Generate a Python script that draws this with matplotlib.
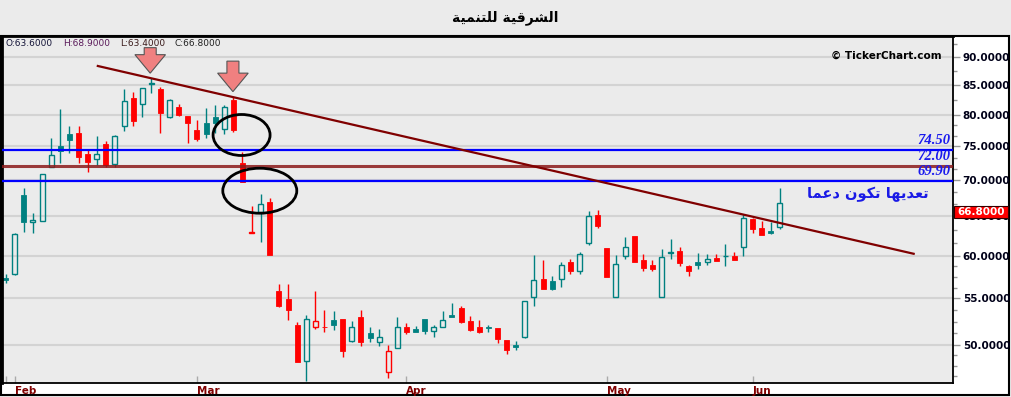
import matplotlib
matplotlib.use('Agg')
import matplotlib.pyplot as plt
from matplotlib.patches import Rectangle, Ellipse, Polygon
from matplotlib.transforms import IdentityTransform, blended_transform_factory, offset_copy
from matplotlib.ticker import FixedLocator, NullFormatter
import numpy as np

# ---------------- data ----------------
title_text = "الشرقية للتنمية"
note_text = "تعديها تكون دعما"
watermark = "© TickerChart.com"

opens = [57.3, 57.8, 67.9, 64.3, 64.4, 71.95, 75.0, 76.9, 77.05, 73.85,
         73.05, 75.4, 72.3, 78.1, 82.75, 81.8, 85.1, 84.3, 79.55, 81.25,
         79.8, 77.55, 78.6, 79.7, 77.75, 82.4, 72.55, 62.9, 65.65, 67.0,
         55.8, 54.9, 52.1, 48.4, 51.9, 51.9, 52.6, 52.7, 50.4, 52.9,
         51.2, 50.3, 47.35, 49.7, 51.9, 51.65, 52.7, 51.4, 51.9, 53.15,
         53.95, 52.5, 51.9, 51.9, 51.75, 50.5, 50.0, 50.85, 55.1, 57.2,
         57.0, 57.2, 59.25, 58.1, 61.55, 65.2, 60.9, 55.1, 60.0, 62.45,
         59.5, 58.85, 55.1, 60.35, 60.6, 58.8, 59.2, 59.25, 59.7, 59.9,
         59.95, 61.05, 64.6, 63.5, 63.1, 63.6]
highs = [57.8, 62.8, 68.85, 65.4, 70.9, 76.35, 80.95, 78.1, 78.2, 74.55,
         76.6, 75.85, 76.7, 84.3, 83.85, 84.5, 86.2, 84.7, 82.6, 81.8,
         79.85, 79.15, 81.1, 81.6, 81.6, 83.0, 74.2, 66.4, 68.05, 67.55,
         56.6, 56.6, 52.35, 53.15, 55.8, 53.7, 53.6, 52.75, 52.5, 53.7,
         51.9, 51.65, 49.95, 52.9, 52.3, 52.0, 52.75, 52.05, 53.6, 54.45,
         54.1, 53.05, 52.6, 52.05, 51.8, 50.55, 50.4, 54.75, 60.1, 59.5,
         57.55, 59.25, 59.6, 60.5, 65.75, 65.87, 60.9, 60.1, 62.3, 62.45,
         60.25, 59.5, 60.85, 62.1, 61.05, 58.85, 60.3, 60.25, 60.25, 61.45,
         60.5, 65.3, 64.85, 64.4, 64.3, 68.9]
lows = [56.8, 57.7, 63.0, 62.9, 64.35, 71.9, 72.5, 74.05, 72.55, 71.24,
        72.2, 71.95, 71.95, 77.3, 78.1, 79.7, 83.6, 77.05, 79.45, 79.8,
        75.5, 75.75, 76.25, 77.05, 76.95, 77.2, 69.75, 62.85, 61.75, 60.05,
        54.05, 52.6, 48.25, 46.5, 51.7, 51.3, 51.55, 48.75, 50.35, 49.85,
        50.35, 49.85, 46.75, 49.65, 51.15, 51.3, 51.15, 50.85, 51.85, 52.9,
        52.3, 51.5, 51.2, 51.3, 50.2, 49.1, 49.5, 50.75, 54.15, 56.0,
        55.95, 56.3, 57.8, 57.8, 61.3, 63.45, 57.5, 55.1, 59.55, 59.25,
        58.2, 58.1, 55.1, 59.6, 58.8, 57.6, 58.4, 58.85, 59.35, 58.75,
        59.5, 59.95, 62.9, 62.6, 62.75, 63.4]
closes = [57.1, 62.7, 64.2, 64.55, 70.85, 73.7, 74.3, 76.0, 73.45, 72.7,
          73.8, 72.2, 76.65, 82.2, 79.05, 84.45, 85.35, 80.35, 82.5, 80.0,
          78.7, 76.15, 76.85, 78.7, 81.25, 77.55, 69.8, 63.0, 66.65, 60.1,
          54.1, 53.7, 48.3, 52.7, 52.5, 51.85, 52.1, 49.35, 51.85, 50.35,
          50.75, 50.8, 49.35, 51.85, 51.3, 51.35, 51.4, 51.85, 52.65, 52.95,
          52.35, 51.55, 51.35, 51.75, 50.6, 49.5, 49.8, 54.7, 57.1, 56.0,
          56.1, 58.85, 58.1, 60.2, 65.05, 63.8, 57.5, 58.95, 61.05, 59.25,
          58.55, 58.4, 59.8, 60.45, 59.05, 58.1, 58.9, 59.55, 59.35, 60.0,
          59.5, 64.85, 63.35, 62.6, 62.9, 66.8]

month_labels = ["Feb", "Mar", "Apr", "May", "Jun"]
month_start_idx = [1, 21, 44, 66, 82]

price_ticks = [50, 55, 60, 65, 70, 75, 80, 85, 90]
level_values = [74.50, 72.00, 69.90]
level_labels = ["74.50", "72.00", "69.90"]
trend_x = [10.0, 99.8]
trend_y = [88.4, 60.2]
arrow_points = [(15.87, 87.07), (24.95, 83.85)]
ellipse_centers = [(25.9, 76.75), (27.9, 68.5)]
header_items = [("O:63.6000", '#141438'), ("H:68.9000", '#5a1a5a'),
                ("L:63.4000", '#3a1a1a'), ("C:66.8000", '#202020')]
last_price_label = "66.8000"

# ---------------- arabic shaping ----------------
_forms = {
    'ا': (0xFE8D, 0xFE8E, None, None), 'ة': (0xFE93, 0xFE94, None, None),
    'ت': (0xFE95, 0xFE96, 0xFE97, 0xFE98), 'د': (0xFEA9, 0xFEAA, None, None),
    'ر': (0xFEAD, 0xFEAE, None, None), 'ش': (0xFEB5, 0xFEB6, 0xFEB7, 0xFEB8),
    'ع': (0xFEC9, 0xFECA, 0xFECB, 0xFECC), 'ق': (0xFED5, 0xFED6, 0xFED7, 0xFED8),
    'ك': (0xFED9, 0xFEDA, 0xFEDB, 0xFEDC), 'ل': (0xFEDD, 0xFEDE, 0xFEDF, 0xFEE0),
    'م': (0xFEE1, 0xFEE2, 0xFEE3, 0xFEE4), 'ن': (0xFEE5, 0xFEE6, 0xFEE7, 0xFEE8),
    'ه': (0xFEE9, 0xFEEA, 0xFEEB, 0xFEEC), 'و': (0xFEED, 0xFEEE, None, None),
    'ي': (0xFEF1, 0xFEF2, 0xFEF3, 0xFEF4),
}


def shape(s):
    dual = {k for k, v in _forms.items() if v[2] is not None}
    out = []
    for i, ch in enumerate(s):
        if ch not in _forms:
            out.append(ch)
            continue
        prev = s[i - 1] if i > 0 else ''
        nxt = s[i + 1] if i + 1 < len(s) else ''
        jp = prev in dual
        jn = (ch in dual) and (nxt in _forms)
        f = _forms[ch]
        if jp and jn:
            c = f[3]
        elif jp:
            c = f[1]
        elif jn:
            c = f[2]
        else:
            c = f[0]
        out.append(chr(c))
    return ''.join(reversed(out))


# ---------------- figure ----------------
W, H = 1012, 397
fig = plt.figure(figsize=(W / 100, H / 100), dpi=100, facecolor='#ebebeb')


def fx(px):
    return px / W


def fy(py):
    return 1 - py / H


fig.patches.append(Rectangle((fx(1), fy(395)), fx(1009) - fx(1), fy(36) - fy(395),
                             transform=fig.transFigure, facecolor='white',
                             edgecolor='black', lw=1.5, zorder=-1))

ax = fig.add_axes([fx(2), fy(383), fx(953) - fx(2), fy(36) - fy(383)])
ax.set_facecolor('#ebebeb')
ax.set_yscale('log')
ax.set_xlim(-0.4, 104)
ax.set_ylim(46.27, 93.93)

for side, lw in [('left', 2.0), ('top', 2.0), ('right', 1.3), ('bottom', 1.3)]:
    ax.spines[side].set_linewidth(lw)
    ax.spines[side].set_color('black')

# y axis
ax.yaxis.tick_right()
ax.yaxis.set_major_locator(FixedLocator(price_ticks))
ax.set_yticklabels([f"{v:.4f}" for v in price_ticks])
bounds = [45] + price_ticks + [95]
subdiv = [5, 4, 4, 3, 3, 3, 3, 2, 2, 2]
minors = []
for (a, b), n in zip(zip(bounds[:-1], bounds[1:]), subdiv):
    for k in range(1, n):
        minors.append(a * (b / a) ** (k / n))
ax.yaxis.set_minor_locator(FixedLocator(minors))
ax.yaxis.set_minor_formatter(NullFormatter())
ax.tick_params(axis='y', which='major', direction='out', length=5, color='#999999',
               width=1, pad=2, labelsize=7.5, labelcolor='#000018')
ax.tick_params(axis='y', which='minor', direction='out', length=3, color='#999999', width=1)
for lab in ax.get_yticklabels():
    lab.set_fontweight('bold')

# x axis
ax.xaxis.set_major_locator(FixedLocator(month_start_idx))
ax.set_xticklabels(month_labels)
ax.xaxis.set_minor_locator(FixedLocator([0]))
ax.tick_params(axis='x', which='both', direction='in', length=5, color='#aaaaaa',
               width=1, pad=2, labelsize=7.5, labelcolor='#800000')
for lab in ax.get_xticklabels():
    lab.set_fontweight('bold')
    lab.set_horizontalalignment('left')

ax.yaxis.grid(True, which='major', color='#d3d3d3', lw=1.5)
ax.set_axisbelow(True)

# candles
o = np.array(opens); h = np.array(highs); l = np.array(lows); c = np.array(closes)
x = np.arange(len(o))
prev = np.concatenate([[o[0] - 1], c[:-1]])
up_color = np.where(c >= prev, '#008080', '#ff0000')
hollow = c >= o
top = np.maximum(o, c)
bot = np.minimum(o, c)
ax.vlines(x, top, h, colors=up_color, lw=1.0, zorder=2)
ax.vlines(x, l, bot, colors=up_color, lw=1.0, zorder=2)
bw = 0.55
for xi, b, t, col, hol in zip(x, bot, top, up_color, hollow):
    if hol:
        ax.add_patch(Rectangle((xi - bw / 2, b), bw, t - b, facecolor='none',
                               edgecolor=col, lw=1.0, zorder=2))
    else:
        ax.add_patch(Rectangle((xi - bw / 2, b), bw, t - b, facecolor=col,
                               edgecolor=col, lw=0.6, zorder=2))

# horizontal levels
ax.axhline(level_values[0], color='#0000ff', lw=1.6, zorder=3)
ax.axhline(level_values[1], color='#8b1a1a', lw=2.2, alpha=0.85, zorder=3)
ax.axhline(level_values[2], color='#0000ff', lw=1.6, zorder=3)
blend = blended_transform_factory(ax.transAxes, ax.transData)
for v, s in zip(level_values, level_labels):
    ax.text(0.9976, v, s, transform=offset_copy(blend, fig=fig, y=3, units='dots'),
            ha='right', va='bottom', fontsize=10.5, color='#1a1aee',
            family='Liberation Serif', weight='bold', style='italic', zorder=4)

# trend line
ax.plot(trend_x, trend_y, color='#800000', lw=1.6, zorder=3, solid_capstyle='butt')

# ellipses (pixel sizes)
for (ex, ey), (ew, eh) in zip(ellipse_centers, [(57, 41), (74, 45)]):
    cx, cy = ax.transData.transform((ex, ey))
    ax.add_artist(Ellipse((cx, cy), ew, eh, transform=IdentityTransform(),
                          fill=False, ec='black', lw=2.0, zorder=5))

# arrows (pixel geometry)
for (axx, ayy), shaft in zip(arrow_points, [7, 12]):
    tx, ty = ax.transData.transform((axx, ayy))
    hw, hl, sw = 15.3, 18.5, 6.0
    pts = [(tx, ty), (tx - hw, ty + hl), (tx - sw, ty + hl), (tx - sw, ty + hl + shaft),
           (tx + sw, ty + hl + shaft), (tx + sw, ty + hl), (tx + hw, ty + hl)]
    ax.add_artist(Polygon(pts, closed=True, transform=IdentityTransform(),
                          facecolor='#f08080', edgecolor='#555555', lw=0.8, zorder=5))

# arabic note
ax.text(94.65, 68.05, shape(note_text), ha='center', va='center', fontsize=10.5,
        color='#1a1ae6', weight='bold', family=['DejaVu Sans'], zorder=4)

# header
for (s, col), px in zip(header_items, [6, 63, 120, 175]):
    fig.text(fx(px), fy(43.5), s, ha='left', va='center', fontsize=6.5, color=col)

fig.text(fx(942), fy(55.5), watermark, ha='right', va='center', fontsize=7.5,
         weight='bold', color='black')

fig.text(fx(505), fy(18), shape(title_text), ha='center', va='center', fontsize=10,
         weight='bold', color='black', family=['DejaVu Sans'])

# last price tag
fig.patches.append(Rectangle((fx(954), fy(218)), fx(1008) - fx(954), fy(206) - fy(218),
                             transform=fig.transFigure, facecolor='#ff0000',
                             edgecolor='#330000', lw=0.8, zorder=6))
fig.text(fx(981), fy(212), last_price_label, ha='center', va='center', fontsize=7.5,
         weight='bold', color='white', zorder=7)

fig.savefig('out.png', dpi=100, facecolor=fig.get_facecolor())
